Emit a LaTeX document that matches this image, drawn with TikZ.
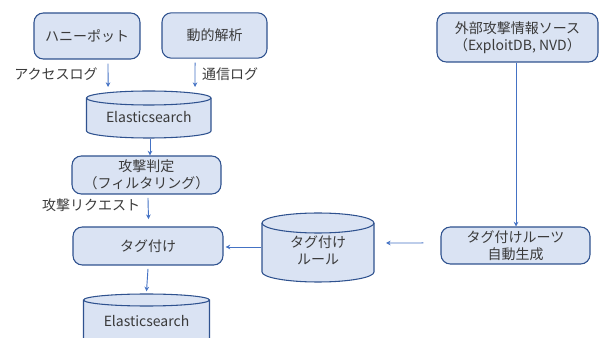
\documentclass[tikz,border=0pt]{standalone}
\usepackage{fontspec}
\setmainfont{Noto Sans CJK JP}
\usetikzlibrary{arrows.meta}
\definecolor{boxfill}{HTML}{DAE3F3}
\definecolor{boxdraw}{HTML}{2F528F}
\definecolor{arrcol}{HTML}{4472C4}
\definecolor{txtcol}{HTML}{3A3A3A}
\tikzset{
  box/.style={draw=boxdraw, fill=boxfill, line width=0.8pt, rounded corners=7pt,
    text=txtcol, align=center, inner sep=0pt},
  arr/.style={draw=arrcol, line width=0.7pt, -{Stealth[length=3.5pt,width=3.5pt]}},
  cyl/.style={draw=boxdraw, fill=boxfill, line width=0.8pt},
  lbl/.style={text=txtcol, inner sep=0pt},
  ctext/.style={text=txtcol, inner sep=0pt, align=center}
}
\newcommand{\mycyl}[5]{% x1, x2, ytop, ybot, ry
  \pgfmathsetmacro{\rxx}{(#2-#1)/2}
  \path[cyl] (#1,#3) -- (#1,#4) arc[start angle=180, end angle=0, x radius=\rxx, y radius=#5]
     -- (#2,#3) arc[start angle=0, end angle=-180, x radius=\rxx, y radius=#5] -- cycle;
  \draw[boxdraw, line width=0.8pt] (#1,#3) arc[start angle=180, end angle=0, x radius=\rxx, y radius=#5];
}
\begin{document}
\begin{tikzpicture}[x=0.75pt,y=-0.75pt, font=\fontsize{10.5}{13}\selectfont]
\useasboundingbox (0,0) rectangle (600,338);
% boxes
\node[box, minimum width=79.5pt, minimum height=34.5pt] (hp) at (87,36) {ハニーポット};
\node[box, minimum width=78.75pt, minimum height=34pt] (dyn) at (214.5,35.5) {動的解析};
\node[box, minimum width=120.75pt, minimum height=36.75pt] (ext) at (517.5,37.5) {外部攻撃情報ソース\\（ExploitDB, NVD）};
\node[box, minimum width=111.75pt, minimum height=28.5pt] (judge) at (146.5,175) {攻撃判定\\（フィルタリング）};
\node[box, minimum width=112.5pt, minimum height=28.5pt] (tag) at (148,246) {タグ付け};
\node[box, minimum width=111.75pt, minimum height=27.75pt] (gen) at (515.5,245.5) {タグ付けルーツ\\自動生成};
% cylinders
\mycyl{86.5}{211}{98}{131}{7}
\node[ctext] (es1) at (148.75,117) {Elasticsearch};
\mycyl{83.5}{209.5}{300}{345}{6}
\node[ctext] (es2) at (146.5,321) {Elasticsearch};
\mycyl{262}{374}{223}{272}{10}
\node[ctext] (rule) at (318,250) {タグ付け\\ルール};
\coordinate (es1top) at (148.75,91);
\coordinate (es1bot) at (150,138);
\coordinate (es2top) at (146.5,294);
\coordinate (ruleL) at (262,247);
\coordinate (ruleR) at (374,243);
% connectors
\draw[arr] ([xshift=15.75pt,yshift=-3pt]hp.south) -- ([xshift=-30.5pt,yshift=3pt]es1top);
\draw[arr] ([xshift=-14.6pt,yshift=-3pt]dyn.south) -- ([xshift=34.7pt,yshift=3pt]es1top);
\draw[arr] ([yshift=-1pt]es1bot) -- (judge.north -| es1bot);
\draw[arr] ([xshift=1.1pt,yshift=-2.5pt]judge.south) -- ([xshift=1.5pt,yshift=5.5pt]tag.north -| judge.south);
\draw[arr] ([yshift=-2.5pt]tag.south) -- ([yshift=2pt]es2top);
\draw[arr] ([xshift=-0.75pt]ruleL) -- ([xshift=1.5pt,yshift=-0.75pt]tag.east);
\draw[arr] ([xshift=-12.75pt,yshift=1.9pt]gen.west) -- ([xshift=9pt]ruleR);
\draw[arr] ([xshift=-1.1pt]ext.south) -- ([xshift=-1.1pt]ext.south |- gen.north);
% labels
\node[lbl] (l1) at (56,74) {アクセスログ};
\node[lbl] (l2) at (230,74) {通信ログ};
\node[lbl] (l3) at (91,205) {攻撃リクエスト};
\end{tikzpicture}
\end{document}
